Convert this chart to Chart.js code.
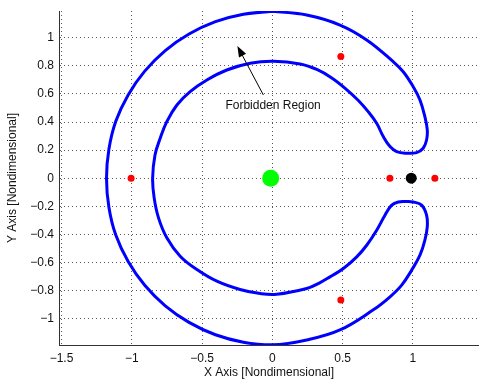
<!DOCTYPE html>
<html>
<head>
<meta charset="utf-8">
<script src="https://cdn.jsdelivr.net/npm/chart.js@4/dist/chart.umd.min.js"></script>
<style>
  html, body { margin: 0; padding: 0; background: #fff; }
  #wrap { width: 479px; height: 385px; position: relative; }
</style>
</head>
<body>
<div id="wrap"><canvas id="myChart" width="479" height="385"></canvas></div>
<script>
// zero velocity curve (one closed loop)
var curveX = [0.000, -0.206, -0.405, -0.593, -0.762, -0.908, -1.026, -1.114, -1.163, -1.180,
  -1.163, -1.114, -1.026, -0.908, -0.762, -0.593, -0.405, -0.206, 0.000, 0.244,
  0.481, 0.718, 0.837, 0.920, 0.991, 1.050, 1.085, 1.102, 1.097, 1.062,
  1.002, 0.950, 0.896, 0.849, 0.801, 0.742, 0.671, 0.600, 0.505, 0.410,
  0.330, 0.244, 0.031, -0.087, -0.230, -0.395, -0.537, -0.656, -0.751, -0.810, -0.841,
  -0.852, -0.835, -0.798, -0.751, -0.679, -0.585, -0.466, -0.324, -0.158, 0.007,
  0.197, 0.320, 0.420, 0.520, 0.610, 0.680, 0.742, 0.789, 0.837, 0.884,
  0.955, 1.026, 1.073, 1.097, 1.102, 1.085, 1.050, 1.002, 0.931, 0.860,
  0.671, 0.481, 0.244, 0.000];
var curveY = [1.188, 1.167, 1.114, 1.026, 0.908, 0.762, 0.593, 0.405, 0.206, 0.000,
  -0.206, -0.405, -0.593, -0.762, -0.908, -1.026, -1.114, -1.167, -1.186, -1.151,
  -1.080, -0.937, -0.844, -0.761, -0.654, -0.548, -0.441, -0.346, -0.263, -0.192,
  -0.169, -0.166, -0.169, -0.192, -0.263, -0.370, -0.477, -0.560, -0.643, -0.702,
  -0.748, -0.785, -0.826, -0.821, -0.792, -0.733, -0.650, -0.555, -0.424, -0.282, -0.140,
  0.000, 0.165, 0.284, 0.403, 0.521, 0.616, 0.699, 0.770, 0.818, 0.832,
  0.813, 0.772, 0.715, 0.638, 0.555, 0.476, 0.391, 0.296, 0.225, 0.189,
  0.178, 0.182, 0.213, 0.272, 0.344, 0.438, 0.557, 0.651, 0.758, 0.829,
  0.984, 1.090, 1.161, 1.188];

// primaries and libration points
var earthPos = [-0.012, 0];
var moonPos = [0.988, 0];
var lagrangeX = [0.836, 1.156, -1.005, 0.487, 0.487];
var lagrangeY = [0, 0, 0, 0.866, -0.866];

var xTicks = [-1.5, -1, -0.5, 0, 0.5, 1];
var yTicks = [-1, -0.8, -0.6, -0.4, -0.2, 0, 0.2, 0.4, 0.6, 0.8, 1];

var noteText = 'Forbidden Region';
var notePos = [0.005, 0.514];
var arrowFrom = [-0.064, 0.592];
var arrowTo = [-0.249, 0.941];

function pts(xs, ys) {
  var out = [];
  for (var i = 0; i < xs.length; i++) out.push({x: xs[i], y: ys[i]});
  return out;
}
function minus(v) {
  return String(v).replace('-', '\u2212');
}

var font = 'Liberation Sans, Arial, Helvetica, sans-serif';

var notePlugin = {
  id: 'note',
  afterDatasetsDraw: function(chart) {
    var ctx = chart.ctx;
    var sx = chart.scales.x, sy = chart.scales.y;
    var x1 = sx.getPixelForValue(arrowFrom[0]), y1 = sy.getPixelForValue(arrowFrom[1]);
    var x2 = sx.getPixelForValue(arrowTo[0]), y2 = sy.getPixelForValue(arrowTo[1]);
    var a = Math.atan2(y2 - y1, x2 - x1);
    ctx.save();
    ctx.strokeStyle = '#000';
    ctx.fillStyle = '#000';
    ctx.lineWidth = 1;
    ctx.beginPath();
    ctx.moveTo(x1, y1);
    ctx.lineTo(x2 - 6 * Math.cos(a), y2 - 6 * Math.sin(a));
    ctx.stroke();
    // arrow head
    ctx.beginPath();
    ctx.moveTo(x2, y2);
    ctx.lineTo(x2 - 11 * Math.cos(a) + 4 * Math.sin(a), y2 - 11 * Math.sin(a) - 4 * Math.cos(a));
    ctx.lineTo(x2 - 11 * Math.cos(a) - 4 * Math.sin(a), y2 - 11 * Math.sin(a) + 4 * Math.cos(a));
    ctx.closePath();
    ctx.fill();
    ctx.font = '12px ' + font;
    ctx.textAlign = 'center';
    ctx.textBaseline = 'middle';
    ctx.fillStyle = '#111';
    ctx.fillText(noteText, sx.getPixelForValue(notePos[0]), sy.getPixelForValue(notePos[1]));
    ctx.restore();
  }
};

var ctx = document.getElementById('myChart').getContext('2d');
var myChart = new Chart(ctx, {
  type: 'scatter',
  data: {
    datasets: [{
      data: pts(curveX, curveY),
      showLine: true,
      borderColor: '#0000ff',
      borderWidth: 3,
      tension: 0.4,
      pointRadius: 0,
      fill: false
    }, {
      data: [{x: earthPos[0], y: earthPos[1]}],
      backgroundColor: '#00ff00',
      borderColor: '#00ff00',
      pointRadius: 8.5,
      borderWidth: 0
    }, {
      data: [{x: moonPos[0], y: moonPos[1]}],
      backgroundColor: '#000',
      borderColor: '#000',
      pointRadius: 5.5,
      borderWidth: 0
    }, {
      data: pts(lagrangeX, lagrangeY),
      backgroundColor: '#ff0000',
      borderColor: '#ff0000',
      pointRadius: 3.5,
      borderWidth: 0
    }]
  },
  options: {
    responsive: false,
    animation: false,
    events: [],
    layout: { autoPadding: false, padding: { top: 11, right: 0, left: 0, bottom: 0 } },
    plugins: { legend: { display: false }, tooltip: { enabled: false } },
    scales: {
      x: {
        type: 'linear',
        min: -1.518,
        max: 1.47,
        afterFit: function(s) { s.height = 40; s.paddingLeft = 0; s.paddingRight = 0; },
        afterBuildTicks: function(s) { s.ticks = xTicks.map(function(v) { return {value: v}; }); },
        grid: { color: 'rgba(0,0,0,0.65)', lineWidth: 1, drawTicks: false },
        border: { display: true, color: '#333', width: 1, dash: [1, 3] },
        ticks: {
          padding: 6, color: '#111', maxRotation: 0, autoSkip: false,
          font: { family: font, size: 12 },
          callback: function(v) { return minus(v); }
        },
        title: {
          display: true, text: 'X Axis [Nondimensional]', color: '#111',
          font: { family: font, size: 12 }, padding: { top: 0, bottom: 5 }
        }
      },
      y: {
        type: 'linear',
        min: -1.187,
        max: 1.19,
        afterFit: function(s) { s.width = 59; s.paddingTop = 0; s.paddingBottom = 0; },
        afterBuildTicks: function(s) { s.ticks = yTicks.map(function(v) { return {value: v}; }); },
        grid: { color: 'rgba(0,0,0,0.65)', lineWidth: 1, drawTicks: false },
        border: { display: true, color: '#333', width: 1, dash: [1, 3] },
        ticks: {
          padding: 5, color: '#111', autoSkip: false,
          font: { family: font, size: 12 },
          callback: function(v) { return minus(v); }
        },
        title: {
          display: true, text: 'Y Axis [Nondimensional]', color: '#111',
          font: { family: font, size: 12 }, padding: { top: 5, bottom: 0 }
        }
      }
    }
  },
  plugins: [notePlugin]
});
</script>
</body>
</html>
